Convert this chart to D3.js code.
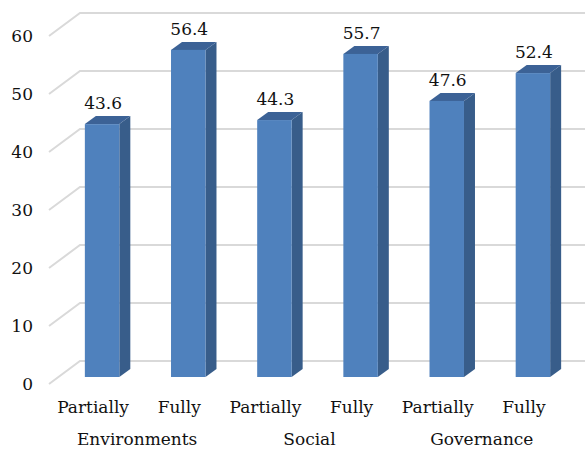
<!DOCTYPE html>
<html>
<head>
<meta charset="utf-8">
<script src="https://cdn.jsdelivr.net/npm/d3@7"></script>
<style>
  html, body { margin: 0; padding: 0; background: #fff; }
  svg text { font-family: "DejaVu Serif", serif; fill: #111; }
</style>
</head>
<body>
<svg id="chart" width="585" height="453"></svg>
<script>
// Share of disclosure by ESG pillar
const groups = ["Environments", "Social", "Governance"];
const levels = ["Partially", "Fully"];
const values = [43.6, 56.4, 44.3, 55.7, 47.6, 52.4];
const yTicks = [0, 10, 20, 30, 40, 50, 60];

const bars = [];
groups.forEach((g, gi) => levels.forEach((l, li) => {
  bars.push({ key: g + "|" + l, group: g, level: l, value: values[gi * levels.length + li] });
}));

const svg = d3.select("#chart");

// 3D geometry: floor/back-wall offsets and bar depth
const wallDx = 31, wallBack = -16, wallFront = 7;
const depthDx = 11, depthDy = -8;

const y = d3.scaleLinear().domain([0, 60]).range([377, 29]);
const x = d3.scaleBand().domain(bars.map(d => d.key))
  .range([59, 576]).paddingInner(0.6).paddingOuter(0.3);

// Gridlines: side wall diagonal + back wall horizontal
const grid = svg.append("g").attr("fill", "none").attr("stroke", "#d9d9d9").attr("stroke-width", 2);
yTicks.forEach(v => {
  const yb = y(v) + wallBack, yf = y(v) + wallFront;
  grid.append("path").attr("d", `M49,${yf} L${49 + wallDx},${yb} L585,${yb}`);
});

// Value axis labels
svg.append("g").selectAll("text").data(yTicks).join("text")
  .attr("x", 33).attr("y", v => y(v) + wallFront)
  .attr("dy", "0.35em").attr("text-anchor", "end")
  .attr("font-size", 17).text(v => v);

// Bars
const bw = x.bandwidth();
const bg = svg.append("g").selectAll("g").data(bars).join("g");
bg.append("path") // side face
  .attr("fill", "#385d8a")
  .attr("d", d => {
    const x1 = x(d.key) + bw, yt = y(d.value), yb = y(0);
    return `M${x1},${yt} L${x1 + depthDx},${yt + depthDy} L${x1 + depthDx},${yb + depthDy} L${x1},${yb} Z`;
  });
bg.append("path") // top face
  .attr("fill", "#3c6296")
  .attr("d", d => {
    const x0 = x(d.key), yt = y(d.value);
    return `M${x0},${yt} L${x0 + depthDx},${yt + depthDy} L${x0 + bw + depthDx},${yt + depthDy} L${x0 + bw},${yt} Z`;
  });
bg.append("rect") // front face
  .attr("fill", "#4f81bd")
  .attr("x", d => x(d.key)).attr("y", d => y(d.value))
  .attr("width", bw).attr("height", d => y(0) - y(d.value));

// Value labels
svg.append("g").selectAll("text").data(bars).join("text")
  .attr("x", d => x(d.key) + bw / 2 + 1)
  .attr("y", d => y(d.value) + depthDy - 7)
  .attr("text-anchor", "middle").attr("font-size", 17)
  .text(d => d.value.toFixed(1));

// Category labels
svg.append("g").selectAll("text").data(bars).join("text")
  .attr("x", d => x(d.key) + bw / 2 - 9)
  .attr("y", 413).attr("text-anchor", "middle").attr("font-size", 17)
  .text(d => d.level);

// Group labels
svg.append("g").selectAll("text").data(groups).join("text")
  .attr("x", g => {
    const ks = levels.map(l => x(g + "|" + l) + bw / 2);
    return d3.mean(ks) - 8;
  })
  .attr("y", 445).attr("text-anchor", "middle").attr("font-size", 17)
  .text(g => g);
</script>
</body>
</html>
